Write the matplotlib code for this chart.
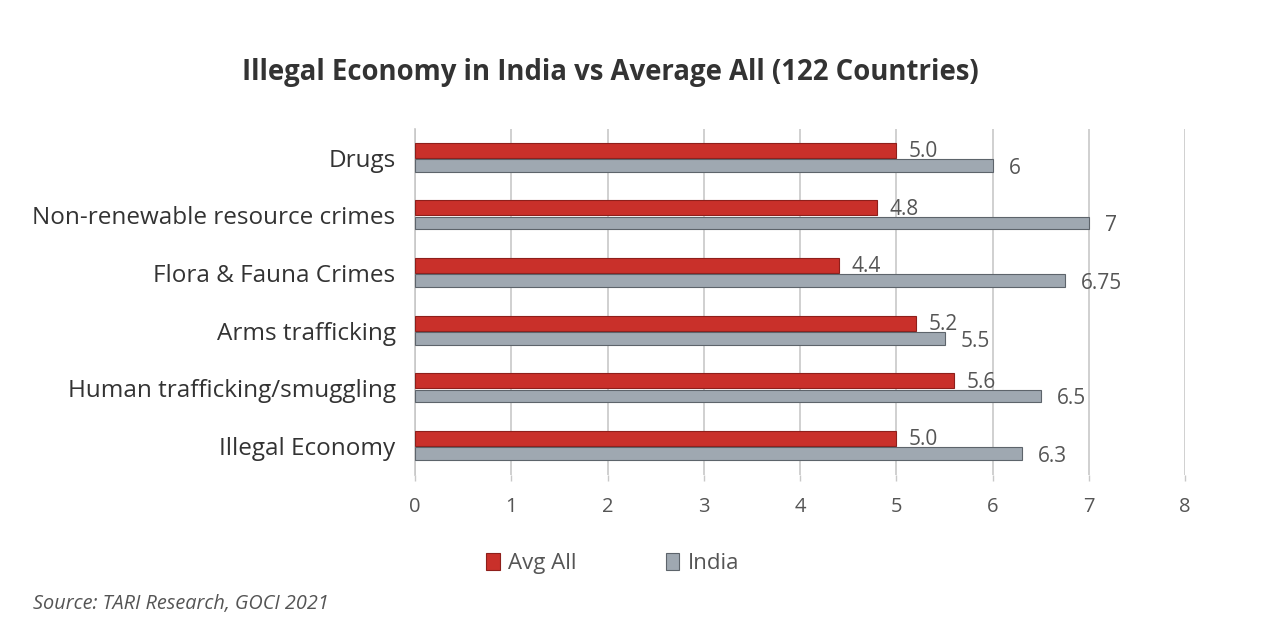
import numpy as np
import matplotlib.pyplot as plt

plt.rcParams['font.family'] = ['Open Sans', 'DejaVu Sans']

categories = ['Drugs', 'Non-renewable resource crimes', 'Flora & Fauna Crimes',
              'Arms trafficking', 'Human trafficking/smuggling', 'Illegal Economy']
avg_all = [5.0, 4.8, 4.4, 5.2, 5.6, 5.0]
india = [6, 7, 6.75, 5.5, 6.5, 6.3]
avg_labels = ['5.0', '4.8', '4.4', '5.2', '5.6', '5.0']
india_labels = ['6', '7', '6.75', '5.5', '6.5', '6.3']

fig = plt.figure(figsize=(12.69, 6.38), dpi=100)
ax = fig.add_axes([0.327, 0.2555, 0.607, 0.5425])

y = np.arange(len(categories))
h = 0.26
red_bars = ax.barh(y - h / 2, avg_all, height=h, color='#c9302a', edgecolor='#8e1f1b', linewidth=0.8, label='Avg All', zorder=3)
grey_bars = ax.barh(y + h / 2, india, height=h * 0.85, color='#9fa8b1', edgecolor='#5d646b', linewidth=0.8, label='India', zorder=3)

for yy, v, t in zip(y, avg_all, avg_labels):
    ax.text(v + 0.13, yy - h / 2 + 0.02, t, va='center', ha='left', fontsize=15, color='#555555')
for yy, v, t in zip(y, india, india_labels):
    ax.text(v + 0.17, yy + h / 2 + 0.05, t, va='center', ha='left', fontsize=15, color='#555555')

ax.set_xlim(0, 8)
ax.set_ylim(len(categories) - 0.5, -0.5)
ax.set_xticks(range(9))
ax.set_yticks(y)
ax.set_yticklabels(categories, fontsize=17.5, color='#333333')
ax.tick_params(axis='x', labelsize=14.5, colors='#555555', length=4, width=1, color='#c8c8c8', pad=12)
ax.tick_params(axis='y', length=0, pad=14)
ax.grid(axis='x', color='#c8c8c8', linewidth=1.2, zorder=0)
for s in ['top', 'right', 'bottom']:
    ax.spines[s].set_visible(False)
ax.spines['left'].set_color('#c8c8c8')
ax.spines['left'].set_linewidth(1.2)

fig.text(0.481, 0.887, 'Illegal Economy in India vs Average All (122 Countries)',
         ha='center', va='center', fontsize=19.8, fontweight='bold', color='#333333')

leg = fig.legend(handles=[red_bars, grey_bars], loc='center', bbox_to_anchor=(0.483, 0.117), ncol=2,
                 frameon=False, fontsize=16, handlelength=0.6, handleheight=0.8, columnspacing=4.0, handletextpad=0.4)
for t in leg.get_texts():
    t.set_color('#555555')

fig.text(0.026, 0.053, 'Source: TARI Research, GOCI 2021', ha='left', va='center',
         fontsize=14.3, style='italic', color='#555555')

fig.savefig('out.png', dpi=100)
